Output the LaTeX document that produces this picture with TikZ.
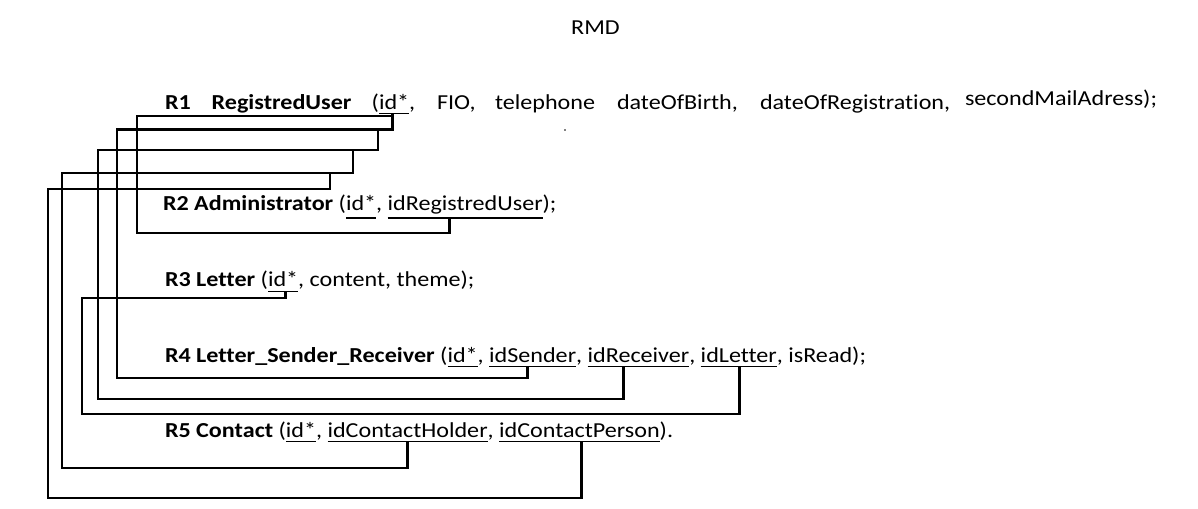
\documentclass[tikz,border=0pt]{standalone}
\usepackage{fontspec}
\setmainfont{Carlito}[FakeStretch=1.13,Ligatures=NoCommon]
\usetikzlibrary{calc}
\begin{document}
\begin{tikzpicture}[x=0.75pt,y=-0.75pt,
  txt/.style={inner sep=0pt,outer sep=0pt,anchor=base west,font=\fontsize{16}{19}\selectfont},
  bld/.style={txt,font=\fontsize{16}{19}\selectfont\bfseries},
  fld/.style={txt,text depth=3.4pt},
  conn/.style={line width=2.2pt,line join=miter},
  uline/.style={line width=1.2pt}]
\useasboundingbox (0,0) rectangle (1198,509);
\fill[white] (0,0) rectangle (1198,509);

\node[txt,anchor=base] (title) at (595.5,35) {RMD};

% R1
\node[bld] (r1n) at (165,110) {R1};
\node[bld] (r1name) at (211.7,110) {RegistredUser};
\node[txt] (r1o) at (371.7,110) {(};
\node[fld,text depth=2.5pt] (r1id) at (r1o.base east) {id*};
\node[txt] (r1c) at (r1id.base east) {,};
\node[txt] (r1f) at (437,110) {FIO,};
\node[txt] (r1t) at (495,110) {telephone};
\node[txt] (r1b) at (617,110) {dateOfBirth,};
\node[txt] (r1r) at (760,110) {dateOfRegistration,};
\node[txt] (r1m) at (965,106) {secondMailAdress);};
\fill (565,130) circle (0.9);

% R2
\node[bld] (r2n) at (163,211) {R2 Administrator};
\node[txt] (r2o) at (r2n.base east) {\ (};
\node[fld,text depth=5.2pt] (r2id) at (r2o.base east) {id*};
\node[txt] (r2c) at (r2id.base east) {,\ \null};
\node[fld,text depth=5.2pt] (r2fk) at (r2c.base east) {idRegistredUser};
\node[txt] (r2e) at (r2fk.base east) {);};

% R3
\node[bld] (r3n) at (165,287) {R3 Letter};
\node[txt] (r3o) at (r3n.base east) {\ (};
\node[fld] (r3id) at (r3o.base east) {id*};
\node[txt] (r3e) at (r3id.base east) {, content, theme);};

% R4
\node[bld] (r4n) at (165,362) {R4 Letter\_Sender\_Receiver};
\node[txt] (r4o) at (r4n.base east) {\ (};
\node[fld] (r4id) at (r4o.base east) {id*};
\node[txt] (r4c1) at (r4id.base east) {,\ \null};
\node[fld] (r4snd) at (r4c1.base east) {idSender};
\node[txt] (r4c2) at (r4snd.base east) {,\ \null};
\node[fld] (r4rcv) at (r4c2.base east) {idReceiver};
\node[txt] (r4c3) at (r4rcv.base east) {,\ \null};
\node[fld] (r4let) at (r4c3.base east) {idLetter};
\node[txt] (r4e) at (r4let.base east) {, isRead);};

% R5
\node[bld] (r5n) at (165,437) {R5 Contact};
\node[txt] (r5o) at (r5n.base east) {\ (};
\node[fld] (r5id) at (r5o.base east) {id*};
\node[txt] (r5c1) at (r5id.base east) {,\ \null};
\node[fld] (r5hold) at (r5c1.base east) {idContactHolder};
\node[txt] (r5c2) at (r5hold.base east) {,\ \null};
\node[fld] (r5pers) at (r5c2.base east) {idContactPerson};
\node[txt] (r5e) at (r5pers.base east) {).};

% underlines
\foreach \f in {r1id,r2id,r2fk,r3id,r4id,r4snd,r4rcv,r4let,r5id,r5hold,r5pers}
  \draw[uline] (\f.south west) -- (\f.south east);

% attachment points
\coordinate (j0) at ($(r1id.south west)!0.45!(r1id.south east)$);
\coordinate (a0) at ($(r3id.south west)!0.57!(r3id.south east)$);
\coordinate (a1) at ($(r2fk.south west)!0.40!(r2fk.south east)$);
\coordinate (a2) at ($(r4snd.south west)!0.44!(r4snd.south east)$);
\coordinate (a3) at ($(r4rcv.south west)!0.35!(r4rcv.south east)$);
\coordinate (a4) at ($(r4let.south west)!0.51!(r4let.south east)$);
\coordinate (a5) at ($(r5hold.south west)!0.50!(r5hold.south east)$);
\coordinate (a6) at ($(r5pers.south west)!0.51!(r5pers.south east)$);
\coordinate (j1) at (378,129.3);
\coordinate (j2) at (353,150);
\coordinate (j3) at (330,173);

% connectors
\draw[conn] (j0) |- (137,116) |- (a1 |- 0,233) -- (a1);
\draw[conn] (j0) |- (117,129.3) |- (a2 |- 0,378) -- (a2);
\draw[conn] (j1) |- (98,150) |- (a3 |- 0,399) -- (a3);
\draw[conn] (j2) |- (62,173) |- (a5 |- 0,468) -- (a5);
\draw[conn] (j3) |- (48,189) |- (a6 |- 0,498) -- (a6);
\draw[conn] (a0) |- (82,298) |- (a4 |- 0,414) -- (a4);
\end{tikzpicture}
\end{document}
